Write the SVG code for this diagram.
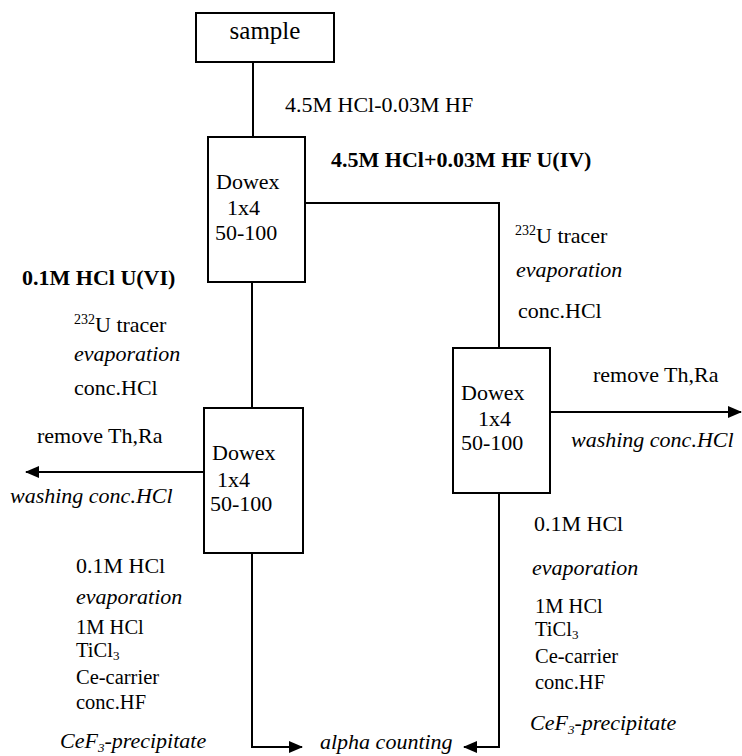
<svg xmlns="http://www.w3.org/2000/svg" width="742" height="756" viewBox="0 0 742 756">
<style>
text{font-family:"Liberation Serif","Times New Roman",serif;font-size:22px;fill:#000}
.b{font-weight:bold}
.i{font-style:italic}
.s{font-size:20.5px}
.box{fill:#fff;stroke:#000;stroke-width:2}
.ln{fill:none;stroke:#000;stroke-width:2}
.sub{font-size:13px}
.sup{font-size:14px}
</style>
<defs>
<marker id="ah" markerUnits="userSpaceOnUse" markerWidth="14" markerHeight="12" refX="13" refY="6" orient="auto">
<path d="M0,0 L14,6 L0,12 Z" fill="#000"/>
</marker>
</defs>
<g id="connectors">
<path class="ln" d="M253,62 V137"/>
<path class="ln" d="M305,203 H499 V348"/>
<path class="ln" d="M252,282 V408"/>
<path class="ln" d="M204,472 H26" marker-end="url(#ah)"/>
<path class="ln" d="M550,412 H741" marker-end="url(#ah)"/>
<path class="ln" d="M252,553 V747 H302" marker-end="url(#ah)"/>
<path class="ln" d="M499,493 V747 H464" marker-end="url(#ah)"/>
</g>
<g id="sample">
<rect class="box" x="196" y="13" width="138" height="49"/>
<text x="265" y="39" text-anchor="middle" style="font-size:25px">sample</text>
</g>
<g id="dowex1">
<rect class="box" x="208" y="137" width="97" height="145"/>
<text x="216" y="189">Dowex</text>
<text x="227" y="215">1x4</text>
<text x="215" y="240">50-100</text>
</g>
<g id="dowex-right">
<rect class="box" x="453" y="348" width="97" height="145"/>
<text x="461" y="400">Dowex</text>
<text x="478" y="426">1x4</text>
<text x="461" y="450">50-100</text>
</g>
<g id="dowex-left">
<rect class="box" x="204" y="408" width="99" height="145"/>
<text x="212" y="460">Dowex</text>
<text x="217" y="487">1x4</text>
<text x="210" y="511">50-100</text>
</g>
<g id="alpha">
<text class="i" x="320" y="749">alpha counting</text>
</g>
<g id="labels">
<text x="285" y="112">4.5M HCl-0.03M HF</text>
<text class="b" x="331" y="167">4.5M HCl+0.03M HF U(IV)</text>
<text x="515" y="243"><tspan class="sup" dy="-8">232</tspan><tspan dy="8">U tracer</tspan></text>
<text class="i" x="516" y="277">evaporation</text>
<text x="518" y="318">conc.HCl</text>
<text class="b" x="22" y="285">0.1M HCl U(VI)</text>
<text x="74" y="332"><tspan class="sup" dy="-8">232</tspan><tspan dy="8">U tracer</tspan></text>
<text class="i" x="74" y="361">evaporation</text>
<text x="74" y="395">conc.HCl</text>
<text x="37" y="443">remove Th,Ra</text>
<text class="i" x="10" y="503">washing conc.HCl</text>
<text x="593" y="382">remove Th,Ra</text>
<text class="i" x="571" y="447">washing conc.HCl</text>
<text x="76" y="573">0.1M HCl</text>
<text class="i" x="76" y="604">evaporation</text>
<text class="s" x="76" y="634">1M HCl</text>
<text class="s" x="76" y="657">TiCl<tspan class="sub" dy="3">3</tspan></text>
<text class="s" x="76" y="684">Ce-carrier</text>
<text class="s" x="76" y="709">conc.HF</text>
<text class="i" x="60" y="748">CeF<tspan class="sub" dy="4">3</tspan><tspan dy="-4">-precipitate</tspan></text>
<text x="534" y="531">0.1M HCl</text>
<text class="i" x="532" y="575">evaporation</text>
<text class="s" x="535" y="613">1M HCl</text>
<text class="s" x="535" y="636">TiCl<tspan class="sub" dy="3">3</tspan></text>
<text class="s" x="535" y="663">Ce-carrier</text>
<text class="s" x="535" y="689">conc.HF</text>
<text class="i" x="530" y="730">CeF<tspan class="sub" dy="4">3</tspan><tspan dy="-4">-precipitate</tspan></text>
</g>
</svg>
